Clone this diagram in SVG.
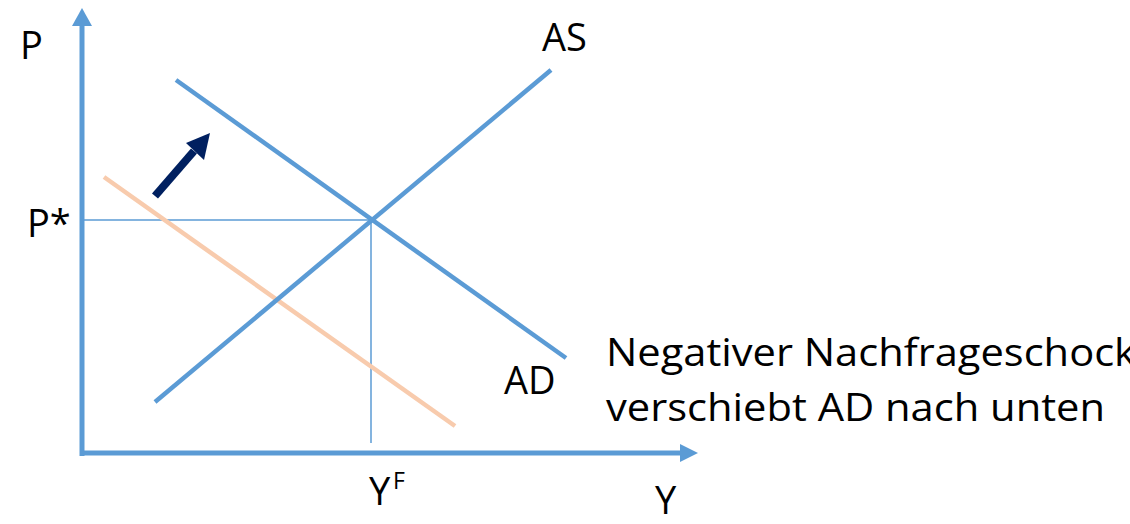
<svg xmlns="http://www.w3.org/2000/svg" width="1130" height="524" viewBox="0 0 1130 524">
<style>
.t{font-family:"Open Sans","Liberation Sans",sans-serif;fill:#000;font-size:38px}
.ax{stroke:#5B9BD5;stroke-width:5;fill:none}
.cv{stroke:#5B9BD5;stroke-width:4.5;fill:none}
.gd{stroke:#5B9BD5;stroke-width:1.5;fill:none}
</style>
<rect width="1130" height="524" fill="#fff"/>
<g id="connectors">
<line class="ax" x1="82" y1="456" x2="82" y2="22"/>
<polygon points="82,8 72,26 92,26" fill="#5B9BD5"/>
<line class="ax" x1="80" y1="453" x2="682" y2="453"/>
<polygon points="698,453 680,444 680,462" fill="#5B9BD5"/>
<line class="gd" x1="84" y1="220" x2="371" y2="220"/>
<line class="gd" x1="371" y1="220" x2="371" y2="443"/>
</g>
<g id="AD-old"><line stroke="#F8CBAD" stroke-width="4.5" x1="104" y1="177" x2="455" y2="426"/></g>
<g id="AD"><line class="cv" x1="176" y1="80" x2="566" y2="358"/></g>
<g id="AS"><line class="cv" x1="155" y1="402" x2="551" y2="70"/></g>
<g id="shift-arrow">
<line stroke="#002060" stroke-width="8" x1="155" y1="196" x2="194" y2="151"/>
<polygon points="210,133 186,143 204,160" fill="#002060"/>
</g>
<g id="labels">
<text class="t" x="20" y="59">P</text>
<text class="t" x="27" y="237">P*</text>
<text class="t" x="542" y="51">AS</text>
<text class="t" x="504" y="394">AD</text>
<text class="t" x="606" y="366" textLength="530" lengthAdjust="spacingAndGlyphs">Negativer Nachfrageschock</text>
<text class="t" x="606" y="421" textLength="499" lengthAdjust="spacingAndGlyphs">verschiebt AD nach unten</text>
<text class="t" x="369" y="505">Y</text>
<text class="t" x="393" y="489" style="font-size:23px">F</text>
<text class="t" x="655" y="514">Y</text>
</g>
</svg>
